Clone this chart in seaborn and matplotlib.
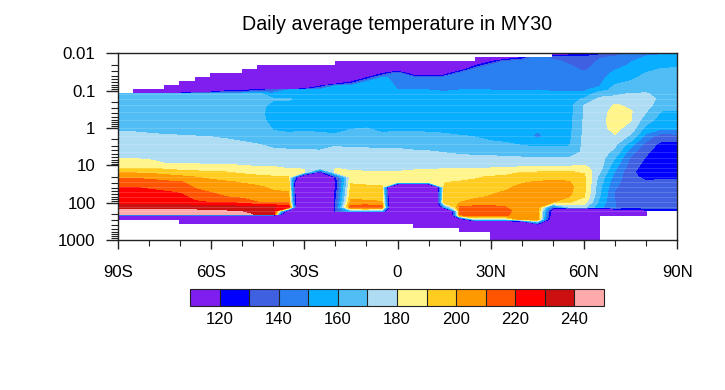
"""
Daily average temperature cross section (latitude / pressure)
"""

import numpy as np
import matplotlib
matplotlib.use('Agg')
import matplotlib.pyplot as plt
from matplotlib.cm import ScalarMappable
from matplotlib.colors import BoundaryNorm, ListedColormap
from matplotlib.ticker import FixedLocator, NullFormatter
import seaborn as sns

X = np.nan

# latitude nodes, every 5 degrees from 90S to 90N
lats = list(range(-90, 95, 5))

# pressure levels in hPa, top of the model downwards
pressures = [0.01, 0.0128, 0.0164, 0.0209, 0.0268, 0.0343, 0.0458, 0.0586, 0.0751, 0.0961,
             0.123, 0.168, 0.243, 0.373, 0.611, 1.0, 1.64, 2.69, 4.40, 6.37,
             8.67, 11.8, 15.1, 20.6, 28.0, 38.1, 51.9, 70.6, 96.1, 131,
             167, 208, 223, 279, 366, 469, 600, 1000]

# temperature in K, one row per pressure level, X where there is no data
temps = [
    [X]*28 + [110, 112, 118, 125, 135, 142, 148, 149, 152],
    [X]*23 + [100, 100, 100, 118, 150, 135, 132, 133, 139, 142, 146, 151, 152, 155],
    [X]*14 + [0]*9 + [100, 118, 142, 144, 146, 145, 136, 132, 142, 145, 149.5, 153, 155, 157],
    [X]*9 + [0]*14 + [118, 142, 145, 146, 146, 147, 141, 135, 144, 147, 151, 155, 158, 159],
    [X]*8 + [0]*10 + [100, 0, 0, 0, 105, 142, 145, 146, 147, 147, 148, 144, 138, 145, 149.5, 153, 158, 160.5, 161],
    [X]*6 + [0]*10 + [60, 118, 143, 105, 105, 105, 142, 145, 146, 147, 147, 147, 148, 146, 142, 146, 152, 155, 160.5, 162, 163],
    [X]*5 + [0]*10 + [60, 122, 152, 146, 148, 148, 148, 146, 146, 147, 148, 147, 147, 148, 147, 144, 147, 155, 158, 163, 164, 164],
    [X]*4 + [0]*10 + [90, 119, 151, 153, 148, 147, 146, 146, 146, 147, 148, 148, 148, 147, 148.5, 148, 145, 148, 158, 161, 165, 165, 165],
    [X]*3 + [0]*9 + [40, 118, 150, 152, 153, 154, 149, 148, 148, 147, 148, 148, 149, 148, 148, 147, 149, 148, 147, 149.5, 161, 163, 167, 166, 165],
    [X] + [0]*4 + [50, 80, 110, 115, 125, 135, 150, 155, 153, 154, 154, 154, 154, 150, 150, 150, 149, 150, 150, 150, 149.5, 149.5, 150, 149.5, 149, 148.5, 155, 164, 166, 169, 167, 165],
    [163]*9 + [162, 155, 155, 155, 155, 155, 155, 155, 155, 152, 152, 152, 152, 152, 152, 152, 152, 152, 153, 151, 152, 152, 167, 169, 170.5, 170.5, 168, 165],
    [164]*9 + [163, 161, 161, 156, 155, 155, 155, 155, 155, 154, 154, 154, 154, 154, 154, 154, 154, 154, 155, 153, 154, 162, 172, 172, 174, 173, 168, 164],
    [165]*9 + [164, 157, 156, 155, 155, 155, 155, 155, 155, 155, 155, 155, 155, 155, 155, 155, 155, 155, 155, 154, 155, 170, 174, 181, 178, 173, 165, 163],
    [166]*9 + [164, 155, 155, 155, 155, 155, 155, 155, 155, 155, 155, 155, 155, 155, 155, 155, 155, 155, 155, 154, 155, 171, 175, 184, 181, 170, 159, 159],
    [167]*9 + [165, 155, 155, 155, 155, 155, 155, 155, 155, 155, 155, 155, 155, 155, 155, 155, 155, 155, 154, 154, 156, 171, 176, 185, 180.5, 164, 156, 156],
    [169, 169, 168.5, 168, 168, 168, 168, 168, 167.5, 167, 159, 158, 159, 158, 158, 159.5, 160, 158, 158, 158, 157.5, 157, 156, 155, 155, 155, 155, 152, 154, 156.5, 171, 177, 183, 176, 157, 152, 153],
    [171.6, 171.4, 171, 170.6, 170.3, 170, 169.8, 169.2, 168.6, 168, 163, 162, 162, 162, 161, 163, 163.5, 162, 163.5, 163, 163, 162, 160.5, 159.5, 157, 156.5, 155.5, 147, 155, 157, 172, 177, 179, 168, 146, 134, 135],
    [174.6, 174.3, 173.6, 173.3, 173, 172.8, 172.5, 171.8, 170.9, 170, 168, 167, 167, 166, 169, 168.5, 168.5, 168, 168, 167, 166.5, 165.7, 164.5, 164, 162.5, 161, 159, 158, 158, 158.5, 172, 177, 172, 155, 136, 127, 127],
    [177.6, 177.3, 176.6, 176, 175.7, 175.3, 175.3, 175, 174.1, 173, 172.4, 172, 172, 171.5, 173, 172, 172, 172, 172, 171.2, 170.7, 169.6, 168.6, 168, 167.8, 167, 165.6, 165, 165, 164, 172, 175, 167, 144, 131.5, 125, 125],
    [180, 179.5, 179, 178, 177.8, 177.4, 177, 177.3, 176.6, 175.5, 175.4, 174.5, 174.5, 174, 175.5, 174.5, 174.5, 174, 174.4, 174, 173.8, 173.3, 172.4, 171.8, 171.7, 171.2, 171, 170.7, 170.7, 170, 176, 175, 160, 139, 129, 124, 124],
    [184.7, 184, 182.6, 179.9, 179.5, 179.1, 178.7, 178.9, 178, 178, 177.8, 176.5, 176.5, 176, 177.5, 176.5, 176.5, 176, 176.4, 176.4, 176.3, 176.3, 176, 175.8, 175.6, 175.7, 176, 176, 176, 175.6, 178, 175, 156, 136, 127, 123, 123],
    [190, 190, 189, 188.2, 186, 185, 184, 183.5, 182.7, 181, 181, 179.5, 179, 179, 180, 178, 178.5, 178, 178.5, 178.6, 178.9, 179.4, 179.5, 179.7, 180, 180.5, 181.5, 182, 182.7, 182.7, 183, 174, 152, 133.5, 126, 124, 124],
    [199, 198.5, 197.5, 195.6, 193.5, 192.4, 190.5, 190, 188.2, 187, 186, 183, 183, 118, 184, 181, 180.5, 180, 180.3, 181.5, 183, 182.3, 183.6, 184, 185, 186.8, 190, 190, 190.7, 190.7, 189, 171, 149, 132, 125, 126, 126],
    [209, 208.5, 207.5, 205, 202.5, 200, 198, 196, 193.9, 192, 191, 190, 60, 0, 125, 186, 185, 184, 184, 184, 185, 186, 187, 188.9, 191, 192, 194, 195, 196, 196, 192, 166, 146, 133, 127, 128, 128],
    [215, 214.5, 213.6, 211.8, 211, 204.4, 202.6, 201, 199.3, 197, 194.5, 194, 0, 0, 120, 189, 188, 187.5, 185, 185, 185, 189.5, 190.6, 191.9, 193.3, 195, 198.6, 201, 202, 201, 193, 165, 143, 134, 131, 133, 133],
    [220, 220, 218.7, 216.8, 215, 208.8, 206, 204, 202.5, 201.5, 198, 197, 0, 0, 121, 192, 191.5, 191, 0, 0, 0, 191.9, 193, 194, 196, 198, 203, 204, 204, 203, 193, 162, 141, 135, 133, 134, 134],
    [222.7, 222.5, 222, 220.9, 219, 212.8, 209.5, 207, 205.4, 204.5, 201.4, 200, 0, 0, 123, 195, 194.5, 194, 0, 0, 0, 194, 195, 196, 198.5, 201, 205, 205, 205, 203, 192, 162, 139, 135, 134, 135, 135],
    [225, 225, 225, 224.2, 223, 216.5, 214.3, 210.2, 208.3, 207, 205, 204, 0, 0, 125, 198, 197.5, 197, 0, 0, 0, 196, 197, 198.5, 201, 204, 206, 206, 203, 200, 190, 160, 139, 135, 135, 135, 135],
    [227.7, 227.7, 227.7, 227.5, 227, 221.4, 219.3, 219, 216, 210, 208.6, 208, 0, 0, 128, 203, 201.5, 200.5, 0, 0, 0, 197.5, 199.5, 204, 206, 208, 207, 206, 200, 191, 185, 157, 140, 135, 135, 135, 135],
    [232, 232, 233.7, 234, 234, 235, 234, 234.5, 233.3, 233, 231, 225, 0, 0, 130, 215, 217, 213, 0, 0, 0, 150, 212, 212, 212, 210, 207, 207, 135, 170, 173, 153, 140, 134, 135, 134, 134],
    [244, 244, 243, 243, 243, 242, 240, 240, 238.8, 238.5, 236, 100, 0, 0, 130, 160, 160, 160, 0, 0, 0, 0, 213, 214, 213, 211, 208, 207, 100, 0, 0, 0, 100, 110, 115, 118, 118],
    [246, 246, 246, 246, 246, 246, 245.5, 245, 244, 238, 235] + [0]*11 + [213, 214, 213, 210.5, 208, 207, 100] + [0]*6 + [X]*2,
    [0]*22 + [200, 213, 212, 210, 207, 206, 100] + [0]*6 + [X]*2,
    [0]*22 + [90, 175, 175, 175, 205, 205, 90] + [0]*3 + [X]*5,
    [X]*4 + [0]*23 + [130] + [0]*4 + [X]*5,
    [X]*19 + [0]*13 + [X]*5,
    [X]*22 + [0]*10 + [X]*5,
    [X]*24 + [0]*8 + [X]*5,
]

# colour levels and fill colours
levels = list(range(110, 260, 10))
colors = ['#7F1EEE', '#0000FF', '#3F60E0', '#2A80F0', '#0AAEFF', '#50BEF5', '#AEDCF3',
          '#FFF58A', '#FFCC20', '#FF9900', '#FF5500', '#FF0000', '#CC1010', '#FFAAAA']
cbar_ticks = list(range(120, 250, 20))

lat_ticks = [-90, -60, -30, 0, 30, 60, 90]
lat_labels = ['90S', '60S', '30S', '0', '30N', '60N', '90N']
p_ticks = [0.01, 0.1, 1, 10, 100, 1000]
p_labels = ['0.01', '0.1', '1', '10', '100', '1000']

sns.set_theme(style="ticks")
plt.rcParams['font.family'] = ['Liberation Sans', 'DejaVu Sans']
INK = '#222222'


def main():
    fig = plt.figure(figsize=(7.25, 3.9), dpi=100)
    ax = fig.add_axes([117.7 / 725, 1 - 240 / 390, 559.6 / 725, 186.7 / 390])

    cmap = ListedColormap(colors)
    cmap.set_under(colors[0])
    cmap.set_over(colors[-1])
    norm = BoundaryNorm(levels, cmap.N)

    field = np.ma.masked_invalid(np.array(temps, dtype=float))
    ax.contourf(lats, pressures, field, levels=levels, cmap=cmap, norm=norm, extend='both',
                corner_mask=False)

    # faint seams along the model levels, as in the original fill
    for p in pressures[10:31]:
        ax.axhline(p, color='white', lw=0.5, alpha=0.22, zorder=3)

    ax.set_yscale('log')
    ax.set_ylim(1000, 0.01)
    ax.set_xlim(-90, 90)
    ax.set_xticks(lat_ticks)
    ax.set_xticklabels(lat_labels)
    ax.xaxis.set_minor_locator(FixedLocator(list(range(-90, 100, 10))))
    ax.set_yticks(p_ticks)
    ax.set_yticklabels(p_labels)
    ax.yaxis.set_minor_locator(FixedLocator([m * p for p in p_ticks[:-1] for m in range(2, 10)]))
    ax.yaxis.set_minor_formatter(NullFormatter())
    ax.tick_params(axis='x', which='major', direction='out', length=6.5, width=1, pad=11.5,
                   labelsize=12.2, color=INK, labelcolor='black')
    ax.tick_params(axis='x', which='minor', direction='out', length=4.2, width=0.8, color=INK)
    ax.tick_params(axis='y', which='major', direction='out', length=9, width=1, pad=7,
                   labelsize=12.2, color=INK, labelcolor='black')
    ax.tick_params(axis='y', which='minor', direction='out', length=4.7, width=0.8, color=INK)
    for side in ax.spines.values():
        side.set_linewidth(1)
        side.set_color(INK)
    ax.set_title('Daily average temperature in MY30', fontsize=14.1, pad=17, color='black')

    # colour bar below the plot
    cax = fig.add_axes([190 / 725, 1 - 306 / 390, 414 / 725, 17 / 390])
    cb = fig.colorbar(ScalarMappable(norm=norm, cmap=cmap), cax=cax, orientation='horizontal',
                      ticks=cbar_ticks, drawedges=True, spacing='uniform')
    cb.ax.tick_params(length=0, labelsize=12, pad=4, labelcolor='black')
    cb.ax.minorticks_off()
    cb.outline.set_linewidth(0.8)
    cb.outline.set_edgecolor(INK)
    cb.dividers.set_linewidth(0.8)
    cb.dividers.set_color(INK)

    fig.savefig('out.png', dpi=100)
    plt.close(fig)


if __name__ == "__main__":
    assert all(len(row) == len(lats) for row in temps)
    assert len(temps) == len(pressures)
    main()
